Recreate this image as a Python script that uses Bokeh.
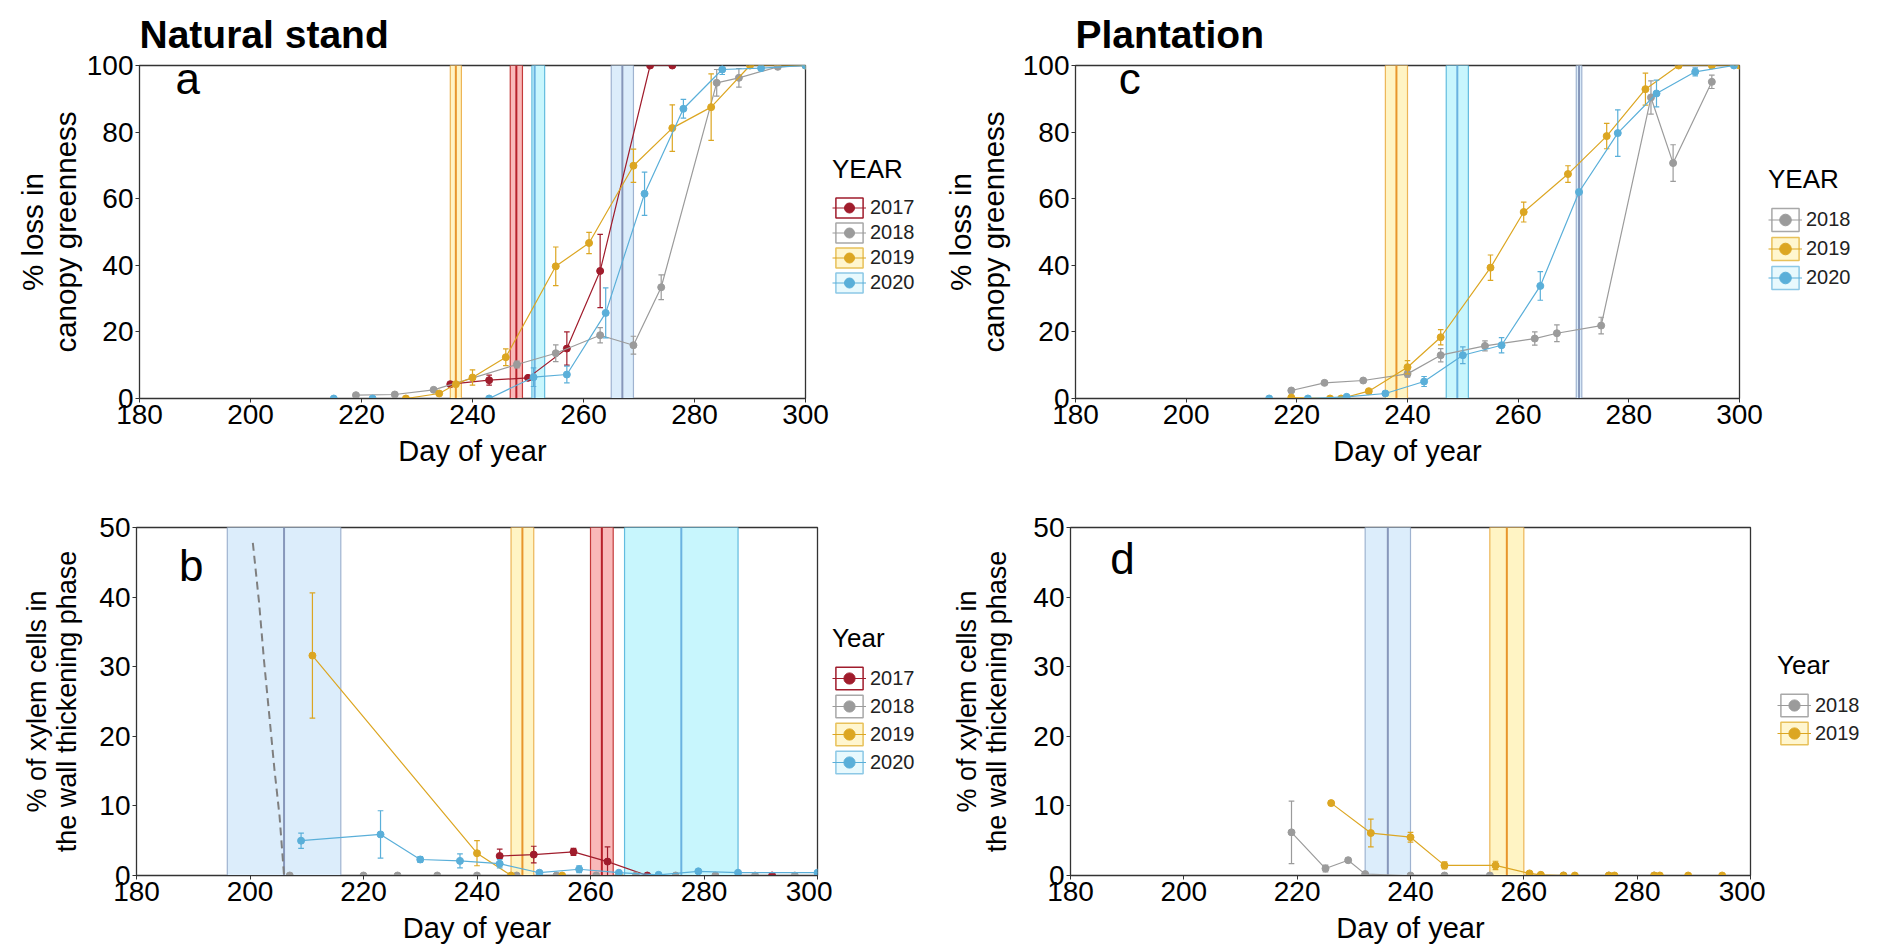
from bokeh.plotting import figure
from bokeh.layouts import row, column
from bokeh.models import Range1d, FixedTicker, Legend, LegendItem, Label
from bokeh.embed import file_html
from bokeh.resources import INLINE

# ---------------- data ----------------
DAY_TICKS = [180, 200, 220, 240, 260, 280, 300]
GREEN_TICKS = [0, 20, 40, 60, 80, 100]
XYLEM_TICKS = [0, 10, 20, 30, 40, 50]

# Panel a: natural stand, canopy greenness loss (%)
A17_x = [236, 243, 250, 257, 263, 272, 276]
A17_y = [4.3, 5.5, 6.2, 15.0, 38.3, 100, 100]
A17_e = [0.5, 1.5, 0, 5.0, 11.0, 0, 0]
A18_x = [219, 226, 233, 248, 255, 263, 269, 274, 284, 288, 295, 300]
A18_y = [1.0, 1.2, 2.6, 10.2, 13.6, 19.0, 16.0, 33.4, 94.8, 96.3, 99.6, 100]
A18_e = [0.5, 0.5, 0.5, 1.0, 2.5, 2.3, 2.7, 3.7, 4.0, 2.8, 0.5, 0]
A19_x = [228, 234, 237, 240, 246, 255, 261, 269, 276, 283, 290, 300]
A19_y = [0, 1.5, 4.3, 6.3, 12.4, 39.7, 46.7, 69.9, 81.2, 87.5, 100, 100]
A19_e = [0, 0.6, 0.5, 2.3, 2.5, 5.8, 3.2, 5.0, 7.0, 10.0, 0, 0]
A20_x = [215, 222, 243, 251, 257, 264, 271, 278, 285, 292, 300]
A20_y = [0, 0, 0, 6.4, 7.2, 25.7, 61.5, 87.0, 98.8, 99.2, 100]
A20_e = [0, 0, 0, 2.8, 2.5, 7.5, 6.5, 2.8, 1.5, 0.5, 0]
# bands: (year, start, end, centre)
A_BANDS = [("2019", 236.0, 238.0, 237.0), ("2017", 246.8, 249.0, 247.9),
           ("2020", 250.7, 253.0, 251.2), ("2018", 265.0, 269.0, 267.0)]

# Panel b: natural stand, xylem cells in wall thickening (%)
B17_x = [244, 250, 257, 263, 270, 292]
B17_y = [2.8, 3.0, 3.4, 2.0, 0, 0]
B17_e = [1.0, 1.2, 0.5, 2.1, 0, 0]
B18_x = [207, 220, 226, 233, 240, 247, 254, 261, 268, 275, 282, 289, 296]
B18_y = [0, 0, 0, 0, 0, 0, 0, 0, 0, 0, 0, 0, 0]
B18_e = [0, 0, 0, 0, 0, 0, 0, 0, 0, 0, 0, 0, 0]
B19_x = [211, 240, 246, 255, 265]
B19_y = [31.6, 3.2, 0, 0, 0]
B19_e = [9.0, 1.8, 0, 0, 0]
B20_x = [209, 223, 230, 237, 244, 251, 258, 265, 272, 279, 286, 300]
B20_y = [5.0, 5.9, 2.3, 2.1, 1.7, 0.4, 0.9, 0.4, 0.1, 0.6, 0.4, 0.4]
B20_e = [1.1, 3.4, 0.4, 1.0, 0.6, 0, 0.5, 0, 0, 0, 0, 0]
B_DASH_x = [200.5, 201.6, 202.5, 203.4, 204.3, 205.2, 206.0]
B_DASH_y = [47.8, 39.2, 30.6, 23.0, 15.3, 8.6, 0.0]
B_BANDS = [("2018", 196.0, 216.0, 206.0), ("2019", 246.0, 250.0, 248.0),
           ("2017", 260.0, 264.0, 262.0), ("2020", 266.0, 286.0, 276.0)]

# Panel c: plantation, canopy greenness loss (%)
C18_x = [219, 225, 232, 240, 246, 254, 263, 267, 275, 284, 288, 295]
C18_y = [2.4, 4.7, 5.4, 7.4, 13.0, 15.8, 18.0, 19.6, 21.9, 90.4, 70.7, 95.1]
C18_e = [0.5, 0.5, 0.5, 1.0, 2.0, 1.5, 2.0, 2.5, 2.5, 5.0, 5.5, 2.0]
C19_x = [219, 226, 228, 233, 240, 246, 255, 261, 269, 276, 283, 289, 295, 300]
C19_y = [0.3, 0, 0, 2.2, 9.4, 18.4, 39.3, 56.0, 67.4, 78.8, 92.9, 100, 100, 100]
C19_e = [0, 0, 0, 0.5, 2.0, 2.3, 3.8, 3.0, 2.5, 3.8, 4.8, 0, 0, 0]
C20_x = [215, 222, 229, 236, 243, 250, 257, 264, 271, 278, 285, 292, 299]
C20_y = [0, 0, 0.5, 1.5, 5.1, 13.0, 16.0, 33.8, 62.0, 79.7, 91.6, 98.1, 100]
C20_e = [0, 0, 0, 0.5, 1.5, 2.5, 2.3, 4.3, 0, 7.0, 4.0, 1.2, 0]
C_BANDS = [("2019", 236.0, 240.0, 238.0), ("2020", 247.0, 251.0, 249.0),
           ("2018", 270.5, 271.5, 271.0)]

# Panel d: plantation, xylem cells in wall thickening (%)
D18_x = [219, 225, 229, 232, 240, 246, 254, 263, 267, 275, 283]
D18_y = [6.2, 1.0, 2.2, 0.2, 0, 0, 0, 0, 0, 0, 0]
D18_e = [4.5, 0.5, 0.3, 0, 0, 0, 0, 0, 0, 0, 0]
D19_x = [226, 233, 240, 246, 255, 261, 263, 267, 269, 275, 276, 283, 284, 289, 295]
D19_y = [10.4, 6.1, 5.5, 1.45, 1.45, 0.3, 0.1, 0, 0, 0, 0, 0, 0, 0, 0]
D19_e = [0.3, 2.0, 0.7, 0.5, 0.6, 0.2, 0, 0, 0, 0, 0, 0, 0, 0, 0]
D_BANDS = [("2018", 232.0, 240.0, 236.0), ("2019", 254.0, 260.0, 257.0)]

# ---------------- styles ----------------
COL = {"2017": "#A01C2C", "2018": "#9B9B9B", "2019": "#DCA622", "2020": "#5AAFD9"}
BAND_FILL = {"2017": "#F9B9B9", "2018": "#DCEDFB", "2019": "#FFF4C4", "2020": "#C8F6FD"}
BAND_EDGE = {"2017": "#C43A3A", "2018": "#9FB3D0", "2019": "#EDB556", "2020": "#62BCDF"}
BAND_MID = {"2017": "#B8202A", "2018": "#8797BA", "2019": "#E8962C", "2020": "#6AB2E0"}
KEY_FILL = {"2017": "#FFFFFF", "2018": "#FFFFFF", "2019": "#FFF6CF", "2020": "#E8F9FD"}
KEY_EDGE = {"2017": "#A01C2C", "2018": "#A8A8A8", "2019": "#E8C15A", "2020": "#8CC8E6"}

SANS = "'Liberation Sans', Arial, sans-serif"
NAN = float("nan")


def panel(width, height, bl, br, bt, bb, ymax, yticks, ylabel, ylab_size, lab_standoff,
          series, bands, letter, letter_xy, title=None, dash=None):
    p = figure(width=width, height=height, x_range=Range1d(180, 300),
               y_range=Range1d(0, ymax), output_backend="svg", toolbar_location=None,
               min_border_left=bl, min_border_right=br, min_border_top=bt,
               min_border_bottom=bb)
    p.xgrid.visible = False
    p.ygrid.visible = False
    p.outline_line_color = "#333333"
    p.outline_line_width = 1.3
    for ax, ticks in ((p.xaxis[0], DAY_TICKS), (p.yaxis[0], yticks)):
        ax.ticker = FixedTicker(ticks=ticks)
        ax.minor_tick_line_color = None
        ax.major_tick_in = 0
        ax.major_tick_out = 4
        ax.axis_line_color = "#333333"
        ax.major_tick_line_color = "#333333"
        ax.major_label_text_font = SANS
        ax.major_label_text_font_size = "28px"
        ax.major_label_text_color = "black"
        ax.major_label_standoff = 2
        ax.axis_label_text_color = "black"
        ax.axis_label_text_font_style = "normal"
        ax.axis_label_text_font = SANS
    p.xaxis.axis_label = "Day of year"
    p.xaxis.axis_label_text_font_size = "29px"
    p.xaxis.axis_label_standoff = 8
    p.yaxis.axis_label = ylabel
    p.yaxis.axis_label_text_font_size = ylab_size
    p.yaxis.axis_label_text_line_height = 1.0
    p.yaxis.axis_label_standoff = lab_standoff

    if title:
        p.title.text = title
        p.title.text_font = SANS
        p.title.text_font_size = "39px"
        p.title.text_font_style = "bold"
        p.title.text_color = "black"
        p.title.align = "left"
        p.title.standoff = 19
        p.title.offset = 0

    # phenology bands
    for yr, lo, hi, mid in bands:
        p.quad(left=[lo], right=[hi], bottom=[0], top=[ymax], fill_color=BAND_FILL[yr],
               line_color=BAND_EDGE[yr], line_width=1.2)
        p.segment(x0=[mid], y0=[0], x1=[mid], y1=[ymax], line_color=BAND_MID[yr],
                  line_width=2)

    if dash is not None:
        p.line(dash[0], dash[1], line_color="#7F7F7F", line_width=2, line_dash="8 5")

    for yr, xs, ys, es in series:
        c = COL[yr]
        p.line(xs, ys, line_color=c, line_width=1.2)
        ex = [x for x, e in zip(xs, es) if e > 0]
        lo = [y - e for y, e in zip(ys, es) if e > 0]
        hi = [y + e for y, e in zip(ys, es) if e > 0]
        if ex:
            p.segment(x0=ex, y0=lo, x1=ex, y1=hi, line_color=c, line_width=1.2)
            p.segment(x0=[x - 0.5 for x in ex], y0=hi, x1=[x + 0.5 for x in ex], y1=hi,
                      line_color=c, line_width=1.2)
            p.segment(x0=[x - 0.5 for x in ex], y0=lo, x1=[x + 0.5 for x in ex], y1=lo,
                      line_color=c, line_width=1.2)
        p.scatter(xs, ys, size=7, fill_color=c, line_color=c)

    p.add_layout(Label(x=letter_xy[0], y=letter_xy[1], text=letter, text_font=SANS,
                       text_font_size="44px", text_color="black",
                       text_baseline="alphabetic"))
    return p


def legend_fig(width, height, bt, bb, title, years, loc, pitch):
    f = figure(width=width, height=height, x_range=Range1d(0, 1), y_range=Range1d(0, 1),
               output_backend="svg", toolbar_location=None, min_border_left=0,
               min_border_right=0, min_border_top=bt, min_border_bottom=bb,
               x_axis_location=None, y_axis_location=None)
    f.xgrid.visible = False
    f.ygrid.visible = False
    f.outline_line_color = None
    items = []
    for yr in years:
        key = f.quad(left=[NAN], right=[NAN], top=[NAN], bottom=[NAN],
                     fill_color=KEY_FILL[yr], line_color=KEY_EDGE[yr], line_width=1.5)
        ln = f.line([NAN], [NAN], line_color=COL[yr], line_width=1.2)
        sc = f.scatter([NAN], [NAN], size=6, fill_color=COL[yr], line_color=COL[yr])
        items.append(LegendItem(label=yr, renderers=[key, ln, sc]))
    leg = Legend(items=items, title=title, location=loc)
    leg.title_text_font = SANS
    leg.title_text_font_size = "26px"
    leg.title_text_font_style = "normal"
    leg.title_text_color = "black"
    leg.title_standoff = 10
    leg.label_text_font = SANS
    leg.label_text_font_size = "20px"
    leg.label_text_color = "#222222"
    leg.glyph_width = 34
    leg.glyph_height = pitch
    leg.label_height = pitch
    leg.spacing = 0
    leg.padding = 0
    leg.margin = 0
    leg.label_standoff = 4
    leg.border_line_alpha = 0
    leg.background_fill_alpha = 0
    f.add_layout(leg, "center")
    return f


pa = panel(832, 470, 139, 27, 65, 72, 100, GREEN_TICKS, "% loss in\ncanopy greenness",
           "29.5px", 2,
           [("2017", A17_x, A17_y, A17_e), ("2018", A18_x, A18_y, A18_e),
            ("2019", A19_x, A19_y, A19_e), ("2020", A20_x, A20_y, A20_e)],
           A_BANDS, "a", (186.5, 96.0), title="Natural stand")
pb = panel(832, 479, 136, 15, 57, 74, 50, XYLEM_TICKS,
           "% of xylem cells in\nthe wall thickening phase", "27px", 14,
           [("2017", B17_x, B17_y, B17_e), ("2018", B18_x, B18_y, B18_e),
            ("2019", B19_x, B19_y, B19_e), ("2020", B20_x, B20_y, B20_e)],
           B_BANDS, "b", (187.5, 44.6), dash=(B_DASH_x, B_DASH_y))
pc = panel(825, 470, 133, 26, 65, 72, 100, GREEN_TICKS, "% loss in\ncanopy greenness",
           "29.5px", 10,
           [("2018", C18_x, C18_y, C18_e), ("2019", C19_x, C19_y, C19_e),
            ("2020", C20_x, C20_y, C20_e)],
           C_BANDS, "c", (187.8, 96.0), title="Plantation")
pd_ = panel(825, 479, 130, 15, 57, 74, 50, XYLEM_TICKS,
            "% of xylem cells in\nthe wall thickening phase", "27px", 18,
            [("2018", D18_x, D18_y, D18_e), ("2019", D19_x, D19_y, D19_e)],
            D_BANDS, "d", (187.0, 45.5))

la = legend_fig(108, 470, 65, 72, "YEAR", ["2017", "2018", "2019", "2020"], (0, 103), 25)
lb = legend_fig(108, 479, 57, 74, "Year", ["2017", "2018", "2019", "2020"], (0, 99), 28)
lc = legend_fig(112, 470, 65, 72, "YEAR", ["2018", "2019", "2020"], (3, 106), 29)
ld = legend_fig(112, 479, 57, 74, "Year", ["2018", "2019"], (12, 128), 28)

layout = column(row(pa, la, pc, lc), row(pb, lb, pd_, ld))
open("out.html", "w").write(file_html(layout, INLINE))
